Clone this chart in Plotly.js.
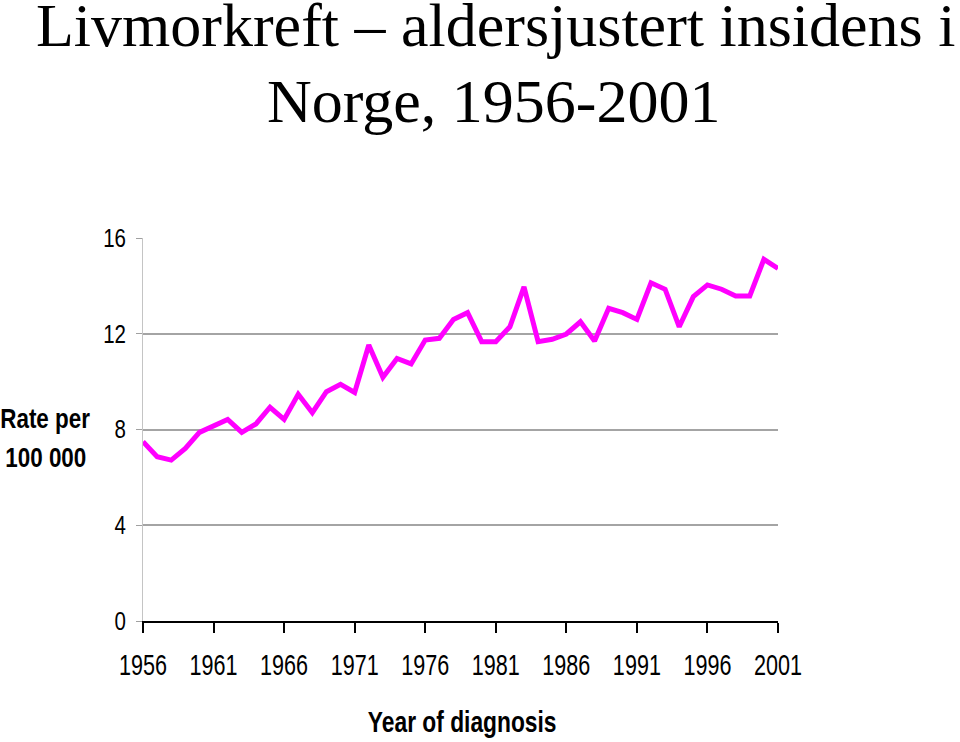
<!DOCTYPE html>
<html>
<head>
<meta charset="utf-8">
<script src="https://cdn.plot.ly/plotly-3.0.1.min.js"></script>
<style>
html,body{margin:0;padding:0;background:#fff;}
#chart{width:960px;height:742px;}
</style>
</head>
<body>
<div id="chart"></div>
<script>
var years = [1956,1957,1958,1959,1960,1961,1962,1963,1964,1965,
             1966,1967,1968,1969,1970,1971,1972,1973,1974,1975,
             1976,1977,1978,1979,1980,1981,1982,1983,1984,1985,
             1986,1987,1988,1989,1990,1991,1992,1993,1994,1995,
             1996,1997,1998,1999,2000,2001];
var rates = [7.49,6.86,6.72,7.21,7.88,8.15,8.42,7.88,8.23,8.93,
             8.42,9.47,8.70,9.58,9.89,9.55,11.53,10.18,10.97,10.74,
             11.74,11.81,12.60,12.88,11.67,11.67,12.29,13.96,11.67,11.77,
             11.99,12.50,11.70,13.06,12.88,12.60,14.13,13.86,12.29,13.55,
             14.04,13.86,13.58,13.58,15.11,14.73];
var xTickVals = [1956,1961,1966,1971,1976,1981,1986,1991,1996,2001];
var xTickText = ["1956","1961","1966","1971","1976","1981","1986","1991","1996","2001"];
var yTickVals = [0,4,8,12,16];
var yTickText = ["0","4","8","12","16"];
var titleLine1 = "Livmorkreft \u2013 aldersjustert insidens i";
var titleLine2 = "Norge, 1956-2001";
var yTitle1 = "Rate per";
var yTitle2 = "100 000";
var xTitle = "Year of diagnosis";

var sans = "'Liberation Sans', Arial, Helvetica, sans-serif";
var serif = "'Liberation Serif', 'Times New Roman', serif";

var L = 143, R = 182, T = 238, B = 121, W = 960, H = 742;
var pw = W - L - R, ph = H - T - B;
function px(x){ return (x - L) / pw; }
function py(y){ return (H - B - y) / ph; }

var trace = {
  x: years, y: rates, type: 'scatter', mode: 'lines',
  line: {color: '#ff00ff', width: 5, shape: 'linear'},
  cliponaxis: false, hoverinfo: 'x+y'
};

var layout = {
  width: W, height: H,
  margin: {l: L, r: R, t: T, b: B, pad: 0},
  paper_bgcolor: '#ffffff', plot_bgcolor: '#ffffff',
  showlegend: false,
  xaxis: {
    range: [1956, 2001], tickvals: xTickVals, ticktext: xTickText,
    showgrid: false, zeroline: false,
    showline: true, linecolor: '#000000', linewidth: 2,
    ticks: 'outside', ticklen: 10, tickwidth: 2, tickcolor: '#000000',
    tickfont: {family: sans, size: 30, color: '#000000'},
    ticklabelstandoff: 6
  },
  yaxis: {
    range: [0, 16], tickvals: yTickVals, ticktext: yTickText,
    showgrid: true, gridcolor: '#a4a4a4', gridwidth: 2,
    zeroline: false,
    showline: true, linecolor: '#c4c4c4', linewidth: 1,
    ticks: 'outside', ticklen: 6, tickwidth: 1, tickcolor: '#a0a0a0',
    tickfont: {family: sans, size: 25, color: '#000000'},
    ticklabelstandoff: 5
  },
  annotations: [
    {text: titleLine1, xref: 'paper', yref: 'paper', x: px(495), y: py(25),
     xanchor: 'center', yanchor: 'middle', showarrow: false, borderpad: 0,
     font: {family: serif, size: 62, color: '#000000'}},
    {text: titleLine2, xref: 'paper', yref: 'paper', x: px(493), y: py(101),
     xanchor: 'center', yanchor: 'middle', showarrow: false, borderpad: 0,
     font: {family: serif, size: 62, color: '#000000'}},
    {text: '<b>' + yTitle1 + '</b>', xref: 'paper', yref: 'paper', x: px(46), y: py(419),
     xanchor: 'center', yanchor: 'middle', showarrow: false,
     font: {family: sans, size: 27, color: '#000000'}},
    {text: '<b>' + yTitle2 + '</b>', xref: 'paper', yref: 'paper', x: px(46), y: py(458),
     xanchor: 'center', yanchor: 'middle', showarrow: false,
     font: {family: sans, size: 27, color: '#000000'}},
    {text: '<b>' + xTitle + '</b>', xref: 'paper', yref: 'paper', x: px(462), y: py(721),
     xanchor: 'center', yanchor: 'middle', showarrow: false,
     font: {family: sans, size: 30, color: '#000000'}}
  ]
};

// Narrow the sans-serif texts horizontally (emulating a condensed face), keeping them real text.
function squeeze(nodes, sx, anchor) {
  nodes.forEach(function(t){
    var bb = t.getBBox();
    var cx = anchor === 'end' ? bb.x + bb.width : bb.x + bb.width / 2;
    var cy = bb.y + bb.height / 2;
    var tr = t.getAttribute('transform') || '';
    t.setAttribute('transform', tr + ' translate(' + cx + ',' + cy + ') scale(' + sx + ',1) translate(' + (-cx) + ',' + (-cy) + ')');
  });
}

Plotly.newPlot('chart', [trace], layout, {displayModeBar: false, staticPlot: true}).then(function(gd){
  squeeze(Array.prototype.slice.call(gd.querySelectorAll('.xtick text')), 0.72, 'middle');
  squeeze(Array.prototype.slice.call(gd.querySelectorAll('.ytick text')), 0.82, 'end');
  [2, 3].forEach(function(i){
    squeeze(Array.prototype.slice.call(gd.querySelectorAll('.annotation[data-index="' + i + '"] text')), 0.83, 'middle');
  });
  squeeze(Array.prototype.slice.call(gd.querySelectorAll('.annotation[data-index="4"] text')), 0.76, 'middle');
});
</script>
</body>
</html>
